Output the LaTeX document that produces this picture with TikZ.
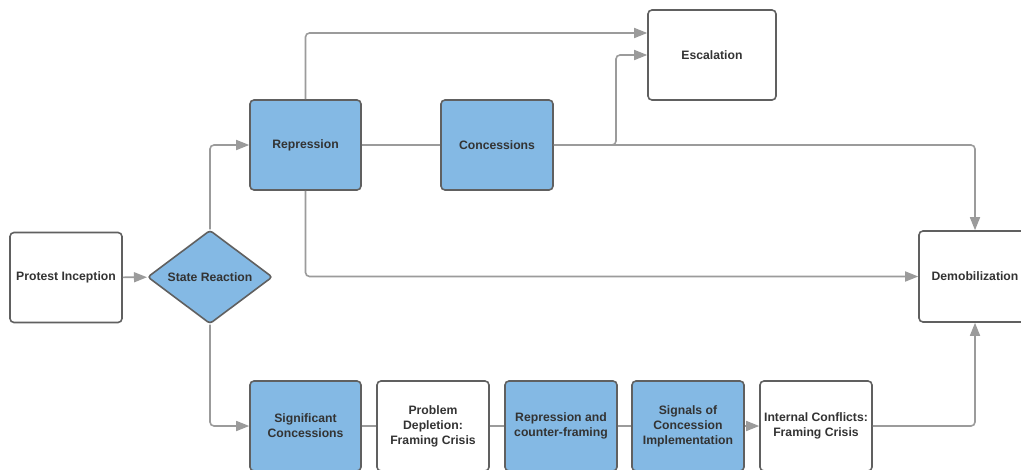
\documentclass[tikz,border=0pt]{standalone}
\usepackage{fontspec}
\setmainfont{Liberation Sans}
\usetikzlibrary{arrows.meta,shapes.geometric}
\definecolor{linegray}{HTML}{9B9B9B}
\definecolor{bordergray}{HTML}{606060}
\definecolor{boxblue}{HTML}{84B9E4}
\definecolor{txtgray}{HTML}{333333}
\tikzset{
  box/.style={draw=bordergray, line width=1.6pt, rounded corners=4pt, fill=white,
    minimum width=112pt, minimum height=90pt, inner sep=1pt, align=center,
    text=txtgray, font=\bfseries\fontsize{12.2}{15}\selectfont},
  bluebox/.style={box, fill=boxblue},
  decision/.style={diamond, draw=bordergray, line width=1.6pt, fill=boxblue,
    rounded corners=3pt, minimum width=125pt, minimum height=88pt, inner sep=0pt,
    text=txtgray, font=\bfseries\fontsize{12.2}{15}\selectfont},
  conn/.style={draw=linegray, line width=1.6pt, rounded corners=4pt},
  arr/.style={conn, -{Triangle[length=13pt,width=10pt]}, color=linegray},
}
\begin{document}
\begin{tikzpicture}[x=1pt,y=-1pt]
\clip (0,0) rectangle (1021,469);
\fill[white] (0,0) rectangle (1021,469);
% nodes
\node[box] (pi) at (66,277.5) {Protest Inception};
\node[decision] (sr) at (210,277) {State Reaction};
\node[bluebox, minimum width=111pt] (rep) at (305.5,145) {Repression};
\node[bluebox] (con) at (497,145) {Concessions};
\node[box, minimum width=128pt] (esc) at (712,55) {Escalation};
\node[box, minimum height=91pt] (dem) at (975,276.5) {Demobilization};
\node[bluebox, minimum width=111pt] (sc) at (305.5,426) {Significant\\Concessions};
\node[box] (pd) at (433,426) {Problem\\Depletion:\\Framing Crisis};
\node[bluebox] (rcf) at (561,426) {Repression and\\counter-framing};
\node[bluebox] (sig) at (688,426) {Signals of\\Concession\\Implementation};
\node[box] (ic) at (816,426) {Internal Conflicts:\\Framing Crisis};
\coordinate (j) at (616,145);
% connectors
\draw[arr] (pi) -- (sr);
\draw[arr] (sr.north) |- (rep.west);
\draw[arr] (sr.south) |- (sc.west);
\draw[arr] (rep.north) |- ([yshift=22pt]esc.west);
\draw[conn] (rep) -- (con);
\draw[arr] (con.east) -- (j) |- (esc.west);
\draw[arr] (con.east) -| (dem.north);
\draw[arr] (rep.south) |- (dem.west);
\draw[conn] (sc) -- (pd);
\draw[conn] (pd) -- (rcf);
\draw[conn] (rcf) -- (sig);
\draw[arr] (sig) -- (ic);
\draw[arr] (ic.east) -| (dem.south);
\end{tikzpicture}
\end{document}
